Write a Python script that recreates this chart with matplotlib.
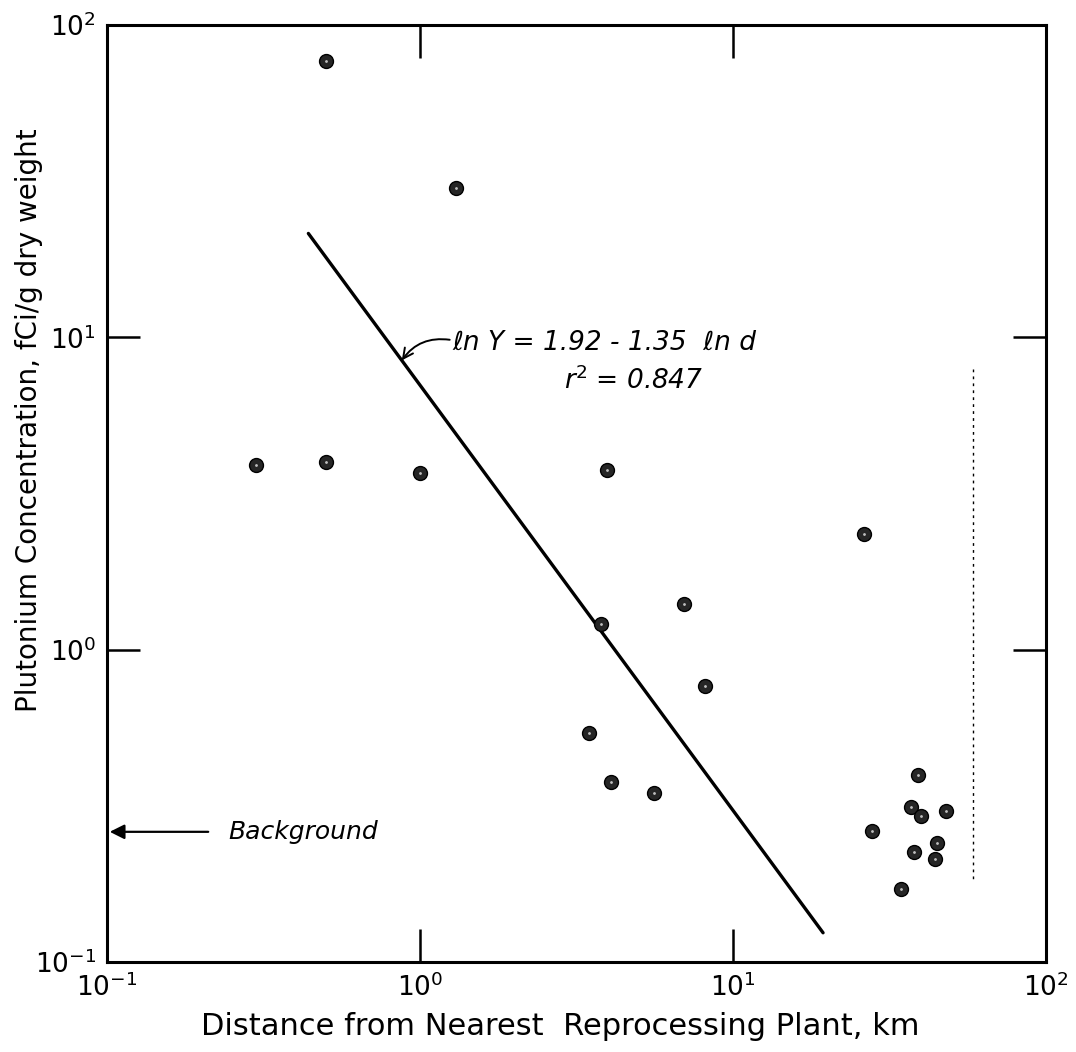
import numpy as np
import matplotlib
matplotlib.use("Agg")
import matplotlib.pyplot as plt

# distance (km) and Pu concentration (fCi/g dry weight)
dist = [0.50, 1.30, 0.30, 0.50, 1.0, 3.96, 26.3, 6.97, 3.78, 8.15,
        3.47, 4.07, 5.60, 27.8, 39.0, 37.0, 40.0, 48.0, 44.9, 37.8, 44.2, 34.4]
conc = [76.7, 30.0, 3.9, 4.0, 3.67, 3.77, 2.35, 1.40, 1.21, 0.767,
        0.542, 0.377, 0.348, 0.263, 0.398, 0.314, 0.293, 0.305, 0.240, 0.225, 0.214, 0.171]

# regression line end points, ln Y = 1.92 - 1.35 ln d
fit_x = [0.44, 19.4]
fit_y = [21.5, 0.124]

# faint dotted vertical line on the right
ref_x = [58.5, 58.5]
ref_y = [7.9, 0.18]

background = 0.261

fig = plt.figure(figsize=(10.76, 10.52), dpi=100)
ax = fig.add_axes([0.0994, 0.0856, 0.8727, 0.8907])
ax.set_xscale('log')
ax.set_yscale('log')
ax.set_xlim(0.1, 100)
ax.set_ylim(0.1, 100)

ax.plot(fit_x, fit_y, color='black', lw=2.4, solid_capstyle='round')
ax.plot(ref_x, ref_y, color='black', lw=1.0, linestyle=(0, (2, 3)))

ax.plot(dist, conc, 'o', ms=10, mfc='0.15', mec='black')
ax.plot(dist, conc, '.', ms=2, color='0.75')

for s in ax.spines.values():
    s.set_linewidth(2.2)

ax.tick_params(which='major', direction='in', length=24, width=1.8,
               top=True, right=True, labelsize=19, pad=8)
ax.tick_params(which='minor', length=0)
ax.set_xticks([0.1, 1, 10, 100])
ax.set_yticks([0.1, 1, 10, 100])

ax.set_xlabel('Distance from Nearest  Reprocessing Plant, km', fontsize=22)
ax.set_ylabel('Plutonium Concentration, fCi/g dry weight', fontsize=20)
ax.xaxis.set_label_coords(0.483, -0.053)
ax.yaxis.set_label_coords(-0.068, 0.578)

# background arrow
ax.annotate('', xy=(0.1, background), xytext=(0.215, background),
            arrowprops=dict(arrowstyle='-|>', color='black', lw=1.6,
                            mutation_scale=22))
ax.text(0.245, background, 'Background', fontsize=18, style='italic',
        va='center', ha='left')

# regression label
ax.annotate('', xy=(0.314, 0.642), xycoords='axes fraction',
            xytext=(0.365, 0.664), textcoords='axes fraction',
            arrowprops=dict(arrowstyle='->', color='black', lw=1.4,
                            connectionstyle='arc3,rad=0.3',
                            shrinkA=0, shrinkB=0, mutation_scale=18))
ax.text(0.368, 0.661, '\u2113n Y = 1.92 - 1.35  \u2113n d', transform=ax.transAxes,
        fontsize=19, style='italic', va='center', ha='left')
ax.text(0.487, 0.620, r'r$^2$ = 0.847', transform=ax.transAxes,
        fontsize=19, style='italic', va='center', ha='left')

fig.savefig('out.png', dpi=100)
